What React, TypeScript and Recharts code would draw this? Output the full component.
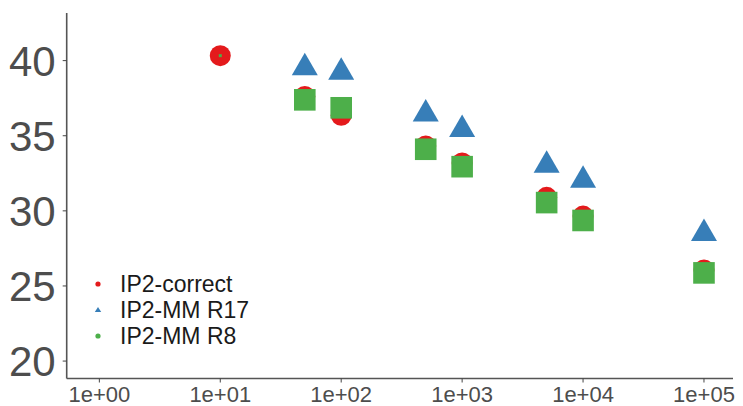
import React from 'react';
import { ScatterChart, Scatter, XAxis, YAxis } from 'recharts';

const xCorrect = [10, 50, 100, 500, 1000, 5000, 10000, 100000];
const yCorrect = [40.33, 37.62, 36.36, 34.32, 33.19, 30.9, 29.65, 26.07];
const xR17 = [50, 100, 500, 1000, 5000, 10000, 100000];
const yR17 = [39.52, 39.22, 36.45, 35.42, 33.04, 32.03, 28.5];
const xR8 = [50, 100, 500, 1000, 5000, 10000, 100000];
const yR8 = [37.39, 36.86, 34.1, 32.94, 30.55, 29.36, 25.87];
const xR8Dot = [10];
const yR8Dot = [40.33];
const xTicks = [1, 10, 100, 1000, 10000, 100000];
const yTicks = [20, 25, 30, 35, 40];
const seriesNames = ['IP2-correct', 'IP2-MM R17', 'IP2-MM R8'];

const RED = '#E41A1C';
const BLUE = '#377EB8';
const GREEN = '#4DAF4A';
const FONT = '"Liberation Sans", Arial, sans-serif';

const toPoints = (xs: number[], ys: number[]) => xs.map((x, i) => ({ x, y: ys[i] }));
const dataCorrect = toPoints(xCorrect, yCorrect);
const dataR17 = toPoints(xR17, yR17);
const dataR8 = toPoints(xR8, yR8);
const dataR8Dot = toPoints(xR8Dot, yR8Dot);

const Circle = (p: any) => <circle cx={p.cx} cy={p.cy} r={10.5} fill={RED} />;
const Triangle = (p: any) => {
  const h = 22.5;
  const w = 26;
  const top = p.cy - (2 / 3) * h;
  const bot = p.cy + h / 3;
  return <polygon points={`${p.cx},${top} ${p.cx - w / 2},${bot} ${p.cx + w / 2},${bot}`} fill={BLUE} />;
};
const Square = (p: any) => <rect x={p.cx - 10.8} y={p.cy - 10.8} width={21.6} height={21.6} fill={GREEN} />;
const Dot = (p: any) => <rect x={p.cx - 1.5} y={p.cy - 1.5} width={3} height={3} fill={GREEN} />;

const fmt = (v: number) => {
  const e = Math.round(Math.log10(v));
  return `1e+${String(e).padStart(2, '0')}`;
};

const LegendBox = () => (
  <svg width={220} height={80} style={{ position: 'absolute', left: 90, top: 271, overflow: 'visible' }}>
    {seriesNames.map((n, i) => {
      const cy = 13 + i * 26;
      let marker;
      if (i === 0) marker = <circle cx={8} cy={cy} r={2.6} fill={RED} />;
      else if (i === 1) marker = <polygon points={`8,${cy - 3} 4.8,${cy + 2} 11.2,${cy + 2}`} fill={BLUE} />;
      else marker = <circle cx={8} cy={cy} r={2.6} fill={GREEN} />;
      return (
        <g key={n}>
          {marker}
          <text x={30} y={cy} dy="0.36em" fontSize={23} fontFamily={FONT} fill="#1a1a1a">{n}</text>
        </g>
      );
    })}
  </svg>
);

export default function App() {
  return (
    <div style={{ position: 'absolute', left: 0, top: 0, width: 743, height: 406, background: '#fff' }}>
      <ScatterChart width={743} height={406} margin={{ top: 13, right: 10, left: 0, bottom: 0 }}>
        <XAxis
          dataKey="x"
          type="number"
          scale="log"
          domain={[Math.pow(10, -0.27), Math.pow(10, 5.24)]}
          allowDataOverflow
          ticks={xTicks}
          tickFormatter={fmt}
          height={27.5}
          tickSize={4}
          tickMargin={4}
          axisLine={{ stroke: '#555', strokeWidth: 1.6 }}
          tickLine={{ stroke: '#444' }}
          tick={{ fontSize: 22, fill: '#4d4d4d', fontFamily: FONT }}
        />
        <YAxis
          dataKey="y"
          type="number"
          domain={[18.84, 43.17]}
          allowDataOverflow
          ticks={yTicks}
          width={66.7}
          tickSize={4}
          tickMargin={7}
          axisLine={{ stroke: '#555', strokeWidth: 1.6 }}
          tickLine={{ stroke: '#444' }}
          tick={{ fontSize: 42, fill: '#4d4d4d', fontFamily: FONT }}
        />
        <Scatter name={seriesNames[0]} data={dataCorrect} shape={Circle} isAnimationActive={false} />
        <Scatter name={seriesNames[1]} data={dataR17} shape={Triangle} isAnimationActive={false} />
        <Scatter name={seriesNames[2]} data={dataR8} shape={Square} isAnimationActive={false} />
        <Scatter name="dot" data={dataR8Dot} shape={Dot} isAnimationActive={false} legendType="none" />
      </ScatterChart>
      <LegendBox />
    </div>
  );
}
